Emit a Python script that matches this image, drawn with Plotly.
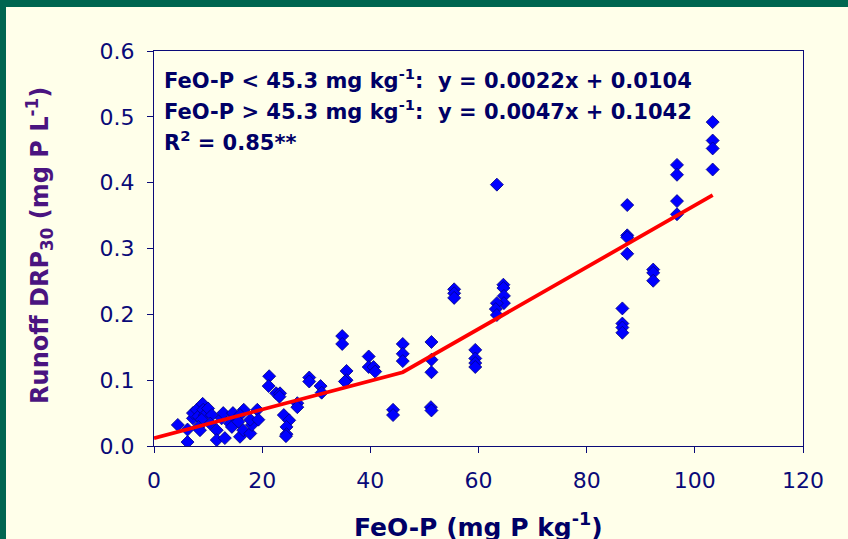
import plotly.graph_objects as go

# FeO-P (mg P kg-1) vs runoff DRP30 (mg P L-1)
feo_p = [
    4.4, 6.2, 6.2, 7.2, 7.2, 7.9, 8.2, 9.0, 9.1, 9.4, 8.8, 8.2, 8.5, 10.0, 10.7, 10.4,
    11.6, 11.6, 13.1, 12.5, 12.8, 14.1, 14.7, 14.4, 14.6, 15.9, 16.5, 16.6, 15.9, 15.6,
    17.8, 18.1, 17.8, 19.1, 19.3,
    21.3, 21.2, 22.6, 23.3, 23.2, 24.0, 25.0, 24.5, 24.5, 24.4, 26.5, 26.5, 28.7, 28.7,
    30.8, 31.0, 34.8, 34.8, 35.6, 35.6, 35.3, 39.7, 39.7, 40.6, 40.9, 44.2, 44.2,
    46.0, 46.0, 46.0, 51.3, 51.3, 51.3, 51.2, 51.3, 55.5, 55.5, 55.5,
    59.4, 59.4, 59.4, 59.4, 63.4, 64.6, 64.6, 64.7, 64.7, 63.4, 63.2, 63.4,
    86.6, 86.6, 86.6, 86.6, 87.5, 87.5, 87.5, 87.5, 92.3, 92.3, 92.3,
    96.7, 96.7, 96.7, 96.7, 103.3, 103.3, 103.3, 103.3,
]
drp30 = [
    0.032, 0.006, 0.025, 0.042, 0.050, 0.055, 0.045, 0.064, 0.055, 0.047, 0.040, 0.029,
    0.024, 0.057, 0.047, 0.034, 0.024, 0.009, 0.012, 0.042, 0.050, 0.034, 0.045, 0.029,
    0.050, 0.014, 0.024, 0.055, 0.047, 0.037, 0.019, 0.032, 0.040, 0.055, 0.040,
    0.106, 0.091, 0.080, 0.080, 0.075, 0.047, 0.039, 0.029, 0.018, 0.015, 0.065, 0.059,
    0.104, 0.098, 0.091, 0.081, 0.167, 0.155, 0.114, 0.100, 0.098, 0.136, 0.120, 0.120,
    0.113, 0.055, 0.047, 0.155, 0.140, 0.129, 0.158, 0.131, 0.112, 0.059, 0.054,
    0.238, 0.232, 0.225, 0.146, 0.133, 0.126, 0.120, 0.397, 0.245, 0.240, 0.228, 0.217,
    0.217, 0.208, 0.199, 0.209, 0.186, 0.180, 0.172, 0.366, 0.320, 0.317, 0.292,
    0.268, 0.263, 0.251, 0.427, 0.412, 0.372, 0.352, 0.492, 0.464, 0.452, 0.420,
]

# Piecewise regression line
fit_x = [0, 46.0, 103.3]
fit_y = [0.012, 0.112, 0.381]

x_ticks = [0, 20, 40, 60, 80, 100, 120]
y_ticks = [0.0, 0.1, 0.2, 0.3, 0.4, 0.5, 0.6]

eq_lines = [
    "FeO-P < 45.3 mg kg<sup>-1</sup>:  y = 0.0022x + 0.0104",
    "FeO-P > 45.3 mg kg<sup>-1</sup>:  y = 0.0047x + 0.1042",
    "R<sup>2</sup> = 0.85**",
]

CREAM = "#FFFFEA"
GREEN = "#006650"
NAVY = "#0A0A78"
FONT = "DejaVu Sans"

fig = go.Figure()
fig.add_trace(go.Scatter(
    x=feo_p, y=drp30, mode="markers",
    marker=dict(symbol="diamond", size=10, color="#0000FF",
                line=dict(color="#000080", width=0.8)),
    showlegend=False, hoverinfo="x+y",
))
fig.add_trace(go.Scatter(
    x=fit_x, y=fit_y, mode="lines",
    line=dict(color="#FF0000", width=3.8),
    showlegend=False, hoverinfo="skip",
))

axis_common = dict(
    showgrid=False, zeroline=False, showline=True, linecolor=NAVY, linewidth=1.2,
    mirror=True, ticks="outside", ticklen=6, tickcolor=NAVY, tickwidth=1.2,
    ticklabelstandoff=8,
    tickfont=dict(family=FONT, size=22, color=NAVY),
)
fig.update_xaxes(range=[0, 120], tickvals=x_ticks, **axis_common)
fig.update_yaxes(range=[0, 0.6], tickvals=y_ticks, tickformat=".1f", **axis_common)

ys = [0.558, 0.510, 0.464]
for txt, yy in zip(eq_lines, ys):
    fig.add_annotation(x=1.4, y=yy, xref="x", yref="y", text="<b>" + txt + "</b>",
                       showarrow=False, xanchor="left", yanchor="middle",
                       font=dict(family=FONT, size=21, color="#000066"))

fig.add_annotation(x=-0.1757, y=0.509, xref="paper", yref="paper",
                   text="<b>Runoff DRP<sub>30</sub> (mg P L<sup>-1</sup>)</b>",
                   textangle=-90, showarrow=False, xanchor="center", yanchor="middle",
                   font=dict(family=FONT, size=24, color="#4A1480"))
fig.add_annotation(x=0.5, y=-0.202, xref="paper", yref="paper",
                   text="<b>FeO-P (mg P kg<sup>-1</sup>)</b>",
                   showarrow=False, xanchor="center", yanchor="middle",
                   font=dict(family=FONT, size=25, color="#000066"))

# green frame strips (left and top)
fig.add_shape(type="rect", xref="paper", yref="paper",
              x0=(0 - 154) / 649, x1=(6 - 154) / 649, y0=(446 - 539) / 395, y1=(446 - 0) / 395,
              fillcolor=GREEN, line=dict(width=0), layer="below")
fig.add_shape(type="rect", xref="paper", yref="paper",
              x0=(0 - 154) / 649, x1=(848 - 154) / 649, y0=(446 - 7) / 395, y1=(446 - 0) / 395,
              fillcolor=GREEN, line=dict(width=0), layer="below")

fig.update_layout(
    width=848, height=539,
    margin=dict(l=154, r=45, t=51, b=93),
    paper_bgcolor=CREAM, plot_bgcolor=CREAM,
    font=dict(family=FONT, color=NAVY),
)

fig.write_html(
    "out.html",
    config={"displayModeBar": False},
    post_script="document.body.style.margin='0';document.body.style.overflow='hidden';"
                "document.body.style.background='#FFFFEA';",
)
